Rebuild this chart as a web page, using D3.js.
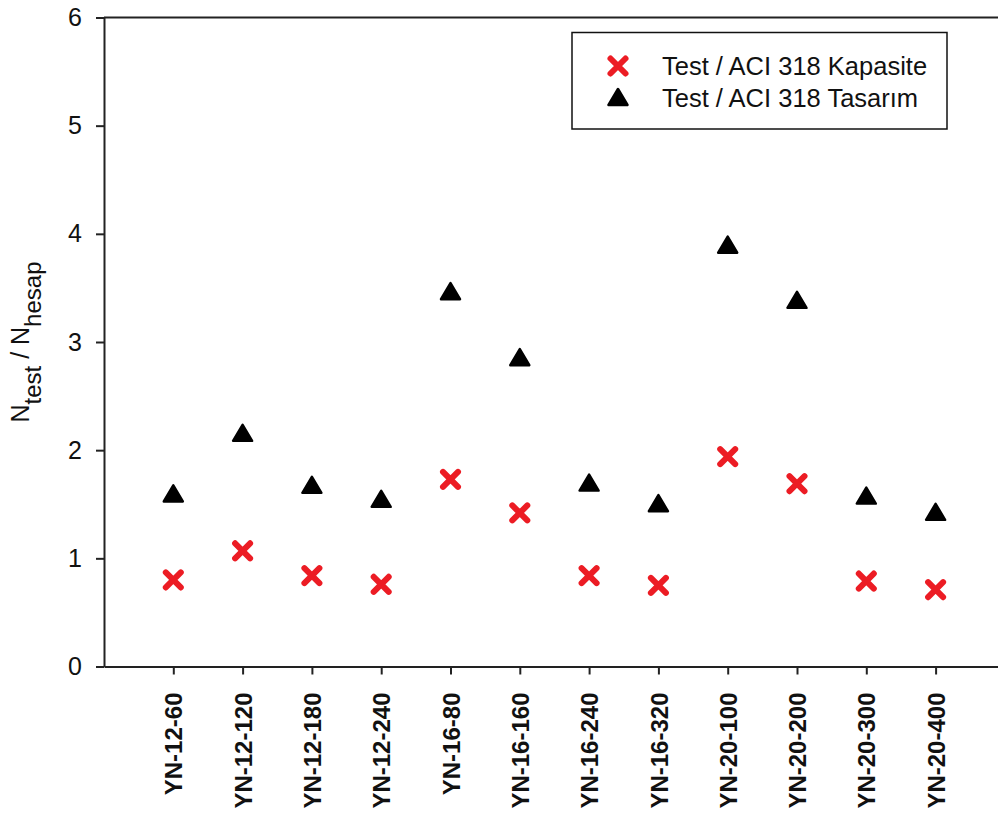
<!DOCTYPE html>
<html>
<head>
<meta charset="utf-8">
<script src="https://cdn.jsdelivr.net/npm/d3@7"></script>
<style>
  body { margin: 0; background: #fff; }
  svg { display: block; font-family: "Liberation Sans", Arial, sans-serif; }
</style>
</head>
<body>
<div id="chart"></div>
<script>
// specimen names along the x axis
var specimens = ["YN-12-60", "YN-12-120", "YN-12-180", "YN-12-240",
                 "YN-16-80", "YN-16-160", "YN-16-240", "YN-16-320",
                 "YN-20-100", "YN-20-200", "YN-20-300", "YN-20-400"];

// Test / ACI 318 Kapasite (red crosses)
var kapasite = [0.80, 1.07, 0.84, 0.76, 1.73, 1.42, 0.84, 0.75, 1.94, 1.69, 0.79, 0.71];

// Test / ACI 318 Tasarim (black triangles)
var tasarim = [1.60, 2.16, 1.68, 1.55, 3.47, 2.86, 1.70, 1.51, 3.90, 3.39, 1.58, 1.43];

var yTicks = [0, 1, 2, 3, 4, 5, 6];
var legendLabels = ["Test / ACI 318 Kapasite", "Test / ACI 318 Tasarım"];

var width = 998, height = 819;
var red = "#ec1c24";

var svg = d3.select("#chart")
    .append("svg")
    .attr("width", width)
    .attr("height", height);

// x runs on the index of the specimen, one empty slot at the left
var x = d3.scaleLinear()
    .domain([-1, 13])
    .range([104, 104 + 14 * 69.3]);

var y = d3.scaleLinear()
    .domain([0, 6])
    .range([666.5, 17.5]);

// top frame line
svg.append("line")
    .attr("x1", x(-1)).attr("x2", x(13))
    .attr("y1", y(6)).attr("y2", y(6))
    .style("stroke", "#222")
    .style("stroke-width", 2);

var yAxis = d3.axisLeft(y)
    .tickValues(yTicks)
    .tickFormat(d3.format("d"))
    .tickSize(8)
    .tickSizeOuter(0)
    .tickPadding(14);

var gy = svg.append("g")
    .attr("transform", "translate(" + x(-1) + ",0)")
    .call(yAxis);
gy.selectAll("path, line").style("stroke", "#222").style("stroke-width", 2);
gy.selectAll("text")
    .style("font-size", "25px")
    .style("fill", "#111");

var xAxis = d3.axisBottom(x)
    .tickValues(d3.range(specimens.length))
    .tickFormat(function(i) { return specimens[i]; })
    .tickSize(8)
    .tickSizeOuter(0);

var gx = svg.append("g")
    .attr("transform", "translate(0," + y(0) + ")")
    .call(xAxis);
gx.selectAll("path, line").style("stroke", "#222").style("stroke-width", 2);
gx.selectAll("text")
    .attr("transform", "rotate(-90)")
    .attr("x", -26)
    .attr("y", 0)
    .attr("dy", "0.36em")
    .style("text-anchor", "end")
    .style("font-size", "24px")
    .style("font-weight", "bold")
    .style("fill", "#111");

// y axis title with subscripts
var title = svg.append("text")
    .attr("transform", "translate(29," + 342 + ") rotate(-90)")
    .style("text-anchor", "middle")
    .style("font-size", "25px")
    .style("fill", "#111");
title.append("tspan").text("N");
title.append("tspan").attr("dy", 12).style("font-size", "24px").text("test");
title.append("tspan").attr("dy", -12).text(" / N");
title.append("tspan").attr("dy", 12).style("font-size", "24px").text("hesap");

// marker shapes
function crossPath(s) {
    return "M" + (-s) + "," + (-s) + "L" + s + "," + s +
           "M" + (-s) + "," + s + "L" + s + "," + (-s);
}
function triPath(w, h) {
    return "M0," + (-h / 2) + "L" + (w / 2) + "," + (h / 2) + "L" + (-w / 2) + "," + (h / 2) + "Z";
}

function drawCross(sel) {
    sel.append("path")
        .attr("d", crossPath(7.5))
        .style("stroke", red)
        .style("stroke-width", 6)
        .style("stroke-linecap", "round")
        .style("fill", "none");
}
function drawTri(sel) {
    sel.append("path")
        .attr("d", triPath(19, 16))
        .style("fill", "#000")
        .style("stroke", "#000")
        .style("stroke-width", 2.5)
        .style("stroke-linejoin", "round");
}

svg.selectAll(".tri")
    .data(tasarim)
    .enter()
    .append("g")
    .attr("class", "tri")
    .attr("transform", function(d, i) { return "translate(" + x(i) + "," + y(d) + ")"; })
    .call(drawTri);

svg.selectAll(".cross")
    .data(kapasite)
    .enter()
    .append("g")
    .attr("class", "cross")
    .attr("transform", function(d, i) { return "translate(" + x(i) + "," + y(d) + ")"; })
    .call(drawCross);

// legend
var legend = svg.append("g");
legend.append("rect")
    .attr("x", 572).attr("y", 32.5)
    .attr("width", 375).attr("height", 96.5)
    .style("fill", "#fff")
    .style("stroke", "#111")
    .style("stroke-width", 1.5);

legend.append("g").attr("transform", "translate(618,66)").call(drawCross);
legend.append("g").attr("transform", "translate(618,97)").call(drawTri);

legend.selectAll(".ltext")
    .data(legendLabels)
    .enter()
    .append("text")
    .attr("class", "ltext")
    .attr("x", 662)
    .attr("y", function(d, i) { return 75 + i * 32; })
    .style("font-size", "25.5px")
    .style("fill", "#111")
    .text(function(d) { return d; });
</script>
</body>
</html>
